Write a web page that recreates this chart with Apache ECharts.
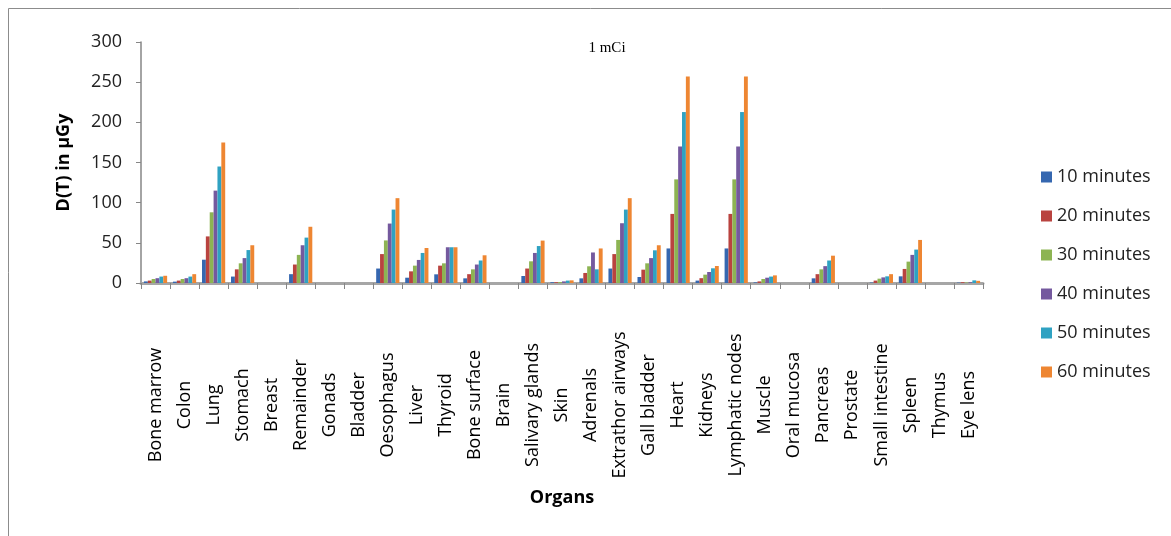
<!DOCTYPE html>
<html>
<head>
<meta charset="utf-8">
<script src="https://cdn.jsdelivr.net/npm/echarts@6/dist/echarts.min.js"></script>
<style>
  html, body { margin: 0; padding: 0; background: #ffffff; }
  #chart { width: 1171px; height: 536px; }
</style>
</head>
<body>
<div id="chart"></div>
<script>
// Organs on the category axis
const organs = ["Bone marrow", "Colon", "Lung", "Stomach", "Breast", "Remainder", "Gonads",
  "Bladder", "Oesophagus", "Liver", "Thyroid", "Bone surface", "Brain", "Salivary glands",
  "Skin", "Adrenals", "Extrathor airways", "Gall bladder", "Heart", "Kidneys",
  "Lymphatic nodes", "Muscle", "Oral mucosa", "Pancreas", "Prostate", "Small intestine",
  "Spleen", "Thymus", "Eye lens"];

// Absorbed dose D(T) in µGy after each exposure time
const min10 = [2, 1.7, 29, 8, 0, 11, 0, 0, 18, 6.6, 10.8, 5.8, 0, 8.7, 1, 5.8, 18, 7.5, 43, 3, 43, 0.8, 0, 5.8, 0, 0.6, 8.3, 0, 0.5];
const min20 = [3, 3, 58, 17, 0, 23, 0, 0, 36, 14.5, 21.6, 11, 0, 18, 1, 12.5, 36, 16.6, 86, 6, 86, 2, 0, 11, 0, 3, 17.5, 0, 1];
const min30 = [5, 5, 88, 24.5, 0, 35, 0, 0, 53, 21.6, 24.5, 17, 0, 27, 1.2, 20.8, 53.6, 24.5, 129, 10.4, 129, 5, 0, 17, 0, 5.4, 26.6, 0, 0.6];
const min40 = [6, 6, 115, 31, 0, 47, 0, 0, 74, 28.7, 44.5, 23, 0, 37.4, 2, 38, 74.4, 31, 170, 13.7, 170, 6.6, 0, 21, 0, 7, 35, 0, 1];
const min50 = [8, 8, 145, 41, 0, 56.5, 0, 0, 91.4, 37.4, 44.5, 28, 0, 46, 3, 17, 91.4, 40.7, 212.8, 18.3, 212.8, 8, 0, 28, 0, 8.3, 41.6, 0, 3.3];
const min60 = [9, 11, 175, 47, 0, 70, 0, 0, 105.6, 43.6, 44.5, 34.5, 0, 52.8, 3.3, 43, 105.6, 47, 257, 21.2, 257, 9.5, 0, 34, 0, 11, 53.6, 0, 2.7];

const seriesNames = ["10 minutes", "20 minutes", "30 minutes", "40 minutes", "50 minutes", "60 minutes"];
const seriesData = [min10, min20, min30, min40, min50, min60];
const seriesColors = ["#3567B0", "#B9433F", "#8DB453", "#74599E", "#2FA2C2", "#EE8632"];

const font = "'Open Sans', 'DejaVu Sans', sans-serif";

const chart = echarts.init(document.getElementById('chart'), null, { renderer: 'canvas' });

chart.setOption({
  backgroundColor: '#ffffff',
  animation: false,
  color: seriesColors,
  graphic: [
    {
      type: 'rect',
      shape: { x: 8.5, y: 8.5, width: 1300, height: 700 },
      style: { fill: 'none', stroke: '#8c8c8c', lineWidth: 1 },
      silent: true
    },
    {
      type: 'text',
      x: 607, y: 48,
      style: {
        text: '1 mCi',
        font: "15px 'Liberation Serif', 'DejaVu Serif', serif",
        fill: '#000000',
        textAlign: 'center',
        textVerticalAlign: 'middle'
      },
      silent: true
    }
  ],
  legend: {
    orient: 'vertical',
    left: 1036,
    top: 162,
    itemWidth: 11,
    itemHeight: 11,
    itemGap: 19,
    icon: 'rect',
    data: seriesNames,
    textStyle: { fontFamily: font, fontSize: 18, color: '#222222', lineHeight: 20 }
  },
  grid: { left: 141, right: 188, top: 42, bottom: 253, containLabel: false },
  xAxis: {
    type: 'category',
    data: organs,
    boundaryGap: true,
    name: 'Organs',
    nameLocation: 'middle',
    nameGap: 206,
    nameTextStyle: { fontFamily: font, fontSize: 18, fontWeight: 'bold', color: '#000000' },
    axisLine: { show: true, lineStyle: { color: '#a6a6a6', width: 3 } },
    axisTick: { show: true, interval: 0, length: 6, lineStyle: { color: '#868686', width: 1 } },
    axisLabel: {
      interval: 0,
      rotate: 90,
      align: 'center',
      verticalAlign: 'middle',
      margin: 122,
      fontFamily: font,
      fontSize: 18,
      color: '#000000'
    },
    splitLine: { show: false }
  },
  yAxis: {
    type: 'value',
    min: 0,
    max: 300,
    interval: 50,
    name: 'D(T) in µGy',
    nameLocation: 'middle',
    nameGap: 68,
    nameRotate: 90,
    nameTextStyle: { fontFamily: font, fontSize: 18, fontWeight: 'bold', color: '#000000' },
    axisLine: { show: true, lineStyle: { color: '#868686', width: 1.5 } },
    axisTick: { show: true, length: 5, lineStyle: { color: '#868686' } },
    axisLabel: { margin: 19, fontFamily: font, fontSize: 18, color: '#222222' },
    splitLine: { show: false }
  },
  series: seriesNames.map((name, i) => ({
    name: name,
    type: 'bar',
    data: seriesData[i],
    barGap: '0%',
    barCategoryGap: '20%',
    itemStyle: { color: seriesColors[i] }
  }))
});
</script>
</body>
</html>
